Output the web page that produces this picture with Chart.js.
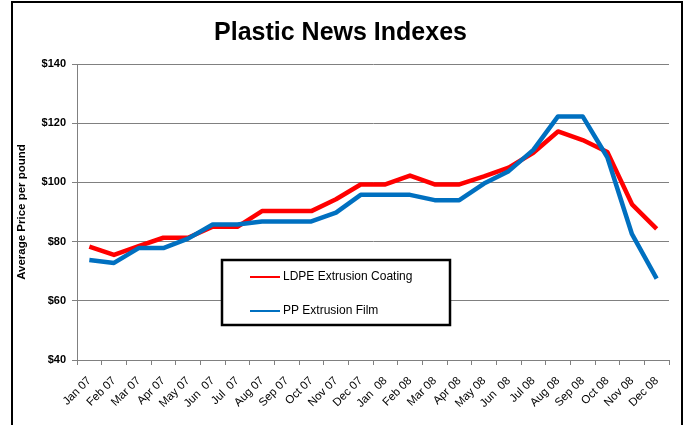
<!DOCTYPE html>
<html>
<head>
<meta charset="utf-8">
<script src="https://cdn.jsdelivr.net/npm/chart.js@4/dist/chart.umd.min.js"></script>
<style>
  html, body { margin: 0; padding: 0; background: #fff; }
  #wrap { width: 686px; height: 425px; position: relative; }
</style>
</head>
<body>
<div id="wrap"><canvas id="c" width="686" height="425"></canvas></div>
<script>
const titleText = 'Plastic News Indexes';
const yAxisTitle = 'Average Price per pound';
const months = ['Jan 07', 'Feb 07', 'Mar 07', 'Apr 07', 'May 07', 'Jun  07', 'Jul  07', 'Aug 07', 'Sep 07', 'Oct 07', 'Nov 07', 'Dec 07',
                'Jan  08', 'Feb 08', 'Mar 08', 'Apr 08', 'May 08', 'Jun  08', 'Jul 08', 'Aug 08', 'Sep 08', 'Oct 08', 'Nov 08', 'Dec 08'];
const ldpeLabel = 'LDPE Extrusion Coating';
const ldpeValues = [78.3, 75.5, 78.5, 81.3, 81.3, 85, 85, 90.3, 90.3, 90.3, 94.3, 99.3,
                    99.3, 102.3, 99.3, 99.3, 102, 105, 110, 117.2, 114.3, 110.3, 92.6, 84.3];
const ppLabel = 'PP Extrusion Film';
const ppValues = [73.8, 72.8, 77.8, 77.8, 81, 85.8, 85.8, 86.8, 86.8, 86.8, 89.8, 95.8,
                  95.8, 95.8, 94, 94, 99.6, 103.8, 111, 122.3, 122.3, 108.5, 82.5, 67.5];
const yMin = 40, yMax = 140, yStep = 20;

const frame = {
  id: 'frame',
  beforeDraw(chart) {
    const ctx = chart.ctx;
    ctx.save();
    ctx.fillStyle = '#fff';
    ctx.fillRect(0, 0, chart.width, chart.height);
    ctx.strokeStyle = '#000';
    ctx.lineWidth = 2;
    ctx.strokeRect(12, 2, 670, 440);
    ctx.restore();
  }
};

const boxLegend = {
  id: 'boxLegend',
  afterDatasetsDraw(chart) {
    const ctx = chart.ctx;
    const x = 222, y = 260, w = 228, h = 65;
    ctx.save();
    ctx.fillStyle = '#fff';
    ctx.fillRect(x, y, w, h);
    ctx.strokeStyle = '#000';
    ctx.lineWidth = 2.5;
    ctx.strokeRect(x, y, w, h);
    const items = [chart.data.datasets[0], chart.data.datasets[1]];
    const rows = [277, 311];
    ctx.font = '12px "Liberation Sans", Arial, sans-serif';
    ctx.textBaseline = 'middle';
    ctx.textAlign = 'left';
    items.forEach((ds, i) => {
      ctx.strokeStyle = ds.borderColor;
      ctx.lineWidth = 2;
      ctx.beginPath();
      ctx.moveTo(250, rows[i]);
      ctx.lineTo(280, rows[i]);
      ctx.stroke();
      ctx.fillStyle = '#000';
      ctx.fillText(ds.label, 283, rows[i]);
    });
    ctx.restore();
  }
};

new Chart(document.getElementById('c'), {
  type: 'line',
  data: {
    labels: months,
    datasets: [
      { label: ldpeLabel, data: ldpeValues, borderColor: '#FF0000', backgroundColor: '#FF0000',
        borderWidth: 4.5, pointRadius: 0, tension: 0, order: 1, borderJoinStyle: 'round' },
      { label: ppLabel, data: ppValues, borderColor: '#0070C0', backgroundColor: '#0070C0',
        borderWidth: 4.5, pointRadius: 0, tension: 0, order: 0, borderJoinStyle: 'round' }
    ]
  },
  options: {
    responsive: false,
    animation: false,
    devicePixelRatio: 1,
    layout: { padding: { left: 12, right: 17, top: 0, bottom: 0 } },
    plugins: {
      legend: { display: false },
      tooltip: { enabled: false },
      title: {
        display: true,
        text: titleText,
        color: '#000',
        font: { family: '"Liberation Sans", Arial, sans-serif', size: 25, weight: 'bold' },
        padding: { top: 18, bottom: 16 }
      }
    },
    scales: {
      x: {
        offset: true,
        grid: { display: true, drawOnChartArea: false, offset: true, tickLength: 5, color: '#808080' },
        border: { display: true, color: '#808080', width: 1 },
        ticks: {
          autoSkip: false, maxRotation: 45, minRotation: 45, color: '#000', padding: 9,
          font: { family: '"Liberation Sans", Arial, sans-serif', size: 11.5 }
        },
        afterFit(scale) { scale.height = 65; }
      },
      y: {
        min: yMin, max: yMax,
        grid: { color: '#808080', tickLength: 5, lineWidth: 1 },
        border: { display: true, color: '#808080', width: 1 },
        ticks: {
          stepSize: yStep, color: '#000', padding: 6,
          font: { family: '"Liberation Sans", Arial, sans-serif', size: 11, weight: 'bold' },
          callback: v => '$' + v
        },
        title: {
          display: true, text: yAxisTitle, color: '#000', padding: { top: 3, bottom: 0 },
          font: { family: '"Liberation Sans", Arial, sans-serif', size: 11.5, weight: 'bold' }
        },
        afterFit(scale) { scale.width = 65; }
      }
    }
  },
  plugins: [frame, boxLegend]
});
</script>
</body>
</html>
